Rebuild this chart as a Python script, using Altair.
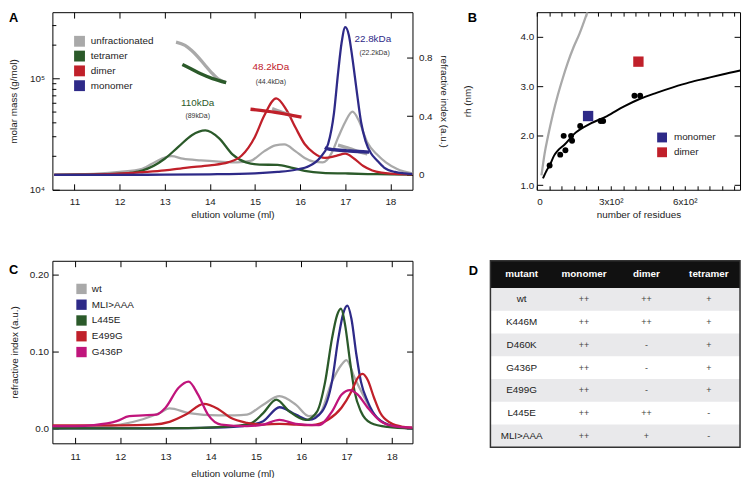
import altair as alt
import pandas as pd

FONT = "Liberation Sans"
TXT = "#222222"

# ---------------- Panel A data ----------------
a_series = ["unfractionated", "tetramer", "dimer", "monomer"]
a_colors = ["#a9a9a9", "#2b5a2a", "#c0202a", "#2e2a88"]

# refractive-index traces (elution volume ml, RI a.u.)
a_unf_x = [10.55, 11.0, 11.5, 12.0, 12.5, 12.8, 13.0, 13.15, 13.4, 13.8, 14.2, 14.6, 14.9, 15.2, 15.45, 15.65, 15.9, 16.1, 16.3, 16.5, 16.7, 16.85, 17.0, 17.16, 17.3, 17.49, 17.7, 17.9, 18.15, 18.49]
a_unf_y = [0.002, 0.004, 0.008, 0.02, 0.042, 0.09, 0.118, 0.127, 0.11, 0.098, 0.09, 0.085, 0.095, 0.16, 0.2, 0.207, 0.16, 0.115, 0.09, 0.085, 0.15, 0.26, 0.36, 0.43, 0.37, 0.22, 0.14, 0.085, 0.04, 0.01]
a_tet_x = [10.55, 11.0, 11.5, 12.0, 12.5, 13.0, 13.3, 13.6, 13.9, 14.2, 14.5, 14.8, 15.1, 15.5, 15.8, 16.1, 16.5, 17.0, 17.5, 18.0, 18.49]
a_tet_y = [0.0, 0.001, 0.003, 0.008, 0.03, 0.11, 0.19, 0.27, 0.302, 0.25, 0.14, 0.085, 0.07, 0.068, 0.05, 0.028, 0.014, 0.01, 0.006, 0.004, 0.002]
a_dim_x = [10.55, 11.5, 12.0, 12.5, 13.0, 13.5, 14.0, 14.4, 14.7, 15.0, 15.2, 15.47, 15.7, 15.9, 16.1, 16.3, 16.55, 16.8, 17.0, 17.2, 17.4, 17.6, 17.8, 18.0, 18.49]
a_dim_y = [0.0, 0.003, 0.008, 0.018, 0.03, 0.05, 0.065, 0.085, 0.13, 0.26, 0.4, 0.52, 0.44, 0.32, 0.21, 0.15, 0.115, 0.13, 0.145, 0.11, 0.06, 0.03, 0.015, 0.008, 0.003]
a_mon_x = [10.55, 12.0, 13.0, 14.0, 15.0, 15.5, 15.9, 16.2, 16.45, 16.62, 16.75, 16.84, 16.92, 17.0, 17.08, 17.16, 17.25, 17.35, 17.45, 17.57, 17.7, 17.86, 18.1, 18.49]
a_mon_y = [0.0, 0.0, 0.002, 0.004, 0.01, 0.02, 0.035, 0.06, 0.12, 0.21, 0.42, 0.69, 0.9, 1.005, 0.95, 0.79, 0.58, 0.36, 0.23, 0.147, 0.1, 0.05, 0.02, 0.005]

# molar mass segments (elution volume ml, g/mol)
a_mass_unf1_x = [13.25, 13.45, 13.59, 13.73, 13.88, 14.03, 14.17, 14.36]
a_mass_unf1_y = [213000, 199000, 180000, 158000, 134000, 114000, 100000, 92000]
a_mass_tet_x = [13.39, 13.59, 13.81, 14.06, 14.36]
a_mass_tet_y = [134000, 122000, 110000, 100000, 92000]
a_mass_unf2_x = [15.38, 15.6, 15.81]
a_mass_unf2_y = [53700, 49700, 46500]
a_mass_dim_x = [14.9, 15.45, 16.03]
a_mass_dim_y = [53000, 49700, 45000]
a_mass_unf3_x = [16.84, 17.1, 17.3, 17.49]
a_mass_unf3_y = [25200, 23500, 22000, 21000]
a_mass_mon_x = [16.55, 16.62, 16.76, 17.1, 17.53]
a_mass_mon_y = [24100, 23300, 22900, 22300, 21800]

a_minor_ticks = [20000, 30000, 40000, 50000, 60000, 70000, 80000, 90000, 200000, 300000]

ann_text = ["110kDa", "(89kDa)", "48.2kDa", "(44.4kDa)", "22.8kDa", "(22.2kDa)"]
ann_ml = [13.73, 13.73, 15.35, 15.35, 17.61, 17.65]
ann_mass = [60800, 46400, 126000, 92500, 227000, 169000]
ann_color = ["#2b5a2a", "#333333", "#c0202a", "#333333", "#2e2a88", "#333333"]
ann_size = [10, 7, 10, 7, 10, 7]

# ---------------- Panel B data ----------------
b_fit_x = [25, 40, 52, 70, 85, 112, 152, 219, 285, 352, 419, 485, 552, 619, 685, 752, 825]
b_fit_y = [1.14, 1.30, 1.40, 1.60, 1.70, 1.82, 2.04, 2.25, 2.40, 2.59, 2.75, 2.87, 2.98, 3.08, 3.16, 3.24, 3.32]
b_gray_x = [19, 32, 45, 65, 85, 105, 125, 149, 172, 205]
b_gray_y = [1.20, 1.65, 1.98, 2.43, 2.82, 3.16, 3.47, 3.79, 4.05, 4.50]
b_dots_x = [52, 95, 116, 109, 139, 143, 176, 259, 269, 396, 419]
b_dots_y = [1.40, 1.62, 1.71, 2.0, 2.0, 1.90, 2.20, 2.30, 2.30, 2.81, 2.81]
b_sq_kind = ["monomer", "dimer"]
b_sq_x = [208, 412]
b_sq_y = [2.40, 3.50]
b_sq_colors = ["#2e2a88", "#c0202a"]

# ---------------- Panel C data ----------------
c_series = ["wt", "MLI>AAA", "L445E", "E499G", "G436P"]
c_colors = ["#a9a9a9", "#2e2a88", "#2b5a2a", "#c0202a", "#c0157c"]
c_wt_x = [10.5, 11.0, 11.5, 12.0, 12.5, 12.87, 13.09, 13.52, 14.17, 14.53, 14.8, 15.16, 15.52, 15.88, 16.17, 16.39, 16.68, 16.89, 17.0, 17.18, 17.4, 17.61, 17.9, 18.2, 18.46]
c_wt_y = [0.0, 0.001, 0.002, 0.005, 0.012, 0.02, 0.026, 0.02, 0.017, 0.017, 0.018, 0.031, 0.042, 0.031, 0.016, 0.018, 0.061, 0.083, 0.089, 0.066, 0.04, 0.018, 0.005, 0.001, 0.0]
c_mli_x = [10.5, 12.0, 13.5, 14.5, 14.9, 15.16, 15.52, 15.88, 16.17, 16.46, 16.68, 16.82, 16.93, 17.02, 17.11, 17.22, 17.32, 17.47, 17.68, 18.04, 18.46]
c_mli_y = [0.0, 0.0, 0.0005, 0.002, 0.005, 0.0095, 0.0276, 0.018, 0.011, 0.022, 0.061, 0.117, 0.15, 0.16, 0.143, 0.096, 0.061, 0.035, 0.014, 0.003, 0.0]
c_l445_x = [10.5, 12.0, 13.5, 14.5, 14.9, 15.16, 15.45, 15.74, 16.1, 16.35, 16.53, 16.68, 16.79, 16.88, 16.97, 17.08, 17.18, 17.32, 17.54, 17.9, 18.46]
c_l445_y = [0.0, 0.0, 0.0005, 0.003, 0.007, 0.02, 0.0375, 0.022, 0.011, 0.022, 0.061, 0.117, 0.147, 0.156, 0.135, 0.087, 0.048, 0.022, 0.007, 0.002, 0.0]
c_e499_x = [10.5, 11.0, 12.0, 12.72, 13.09, 13.45, 13.85, 14.17, 14.44, 14.8, 15.16, 15.52, 15.9, 16.24, 16.6, 16.89, 17.11, 17.25, 17.36, 17.47, 17.61, 17.75, 17.97, 18.26, 18.46]
c_e499_y = [0.004, 0.004, 0.004, 0.005, 0.0086, 0.018, 0.032, 0.025, 0.0138, 0.0073, 0.005, 0.006, 0.005, 0.0043, 0.0116, 0.027, 0.048, 0.066, 0.071, 0.063, 0.04, 0.02, 0.0073, 0.002, 0.001]
c_g436_x = [10.5, 11.0, 11.42, 11.92, 12.2, 12.5, 12.8, 13.0, 13.29, 13.51, 13.72, 13.94, 14.23, 14.8, 15.16, 15.52, 15.88, 16.39, 16.68, 16.89, 17.08, 17.25, 17.47, 17.75, 18.04, 18.46]
c_g436_y = [0.003, 0.003, 0.0043, 0.0095, 0.016, 0.017, 0.018, 0.027, 0.053, 0.061, 0.044, 0.018, 0.005, 0.003, 0.005, 0.011, 0.006, 0.0043, 0.022, 0.044, 0.05, 0.044, 0.027, 0.0095, 0.003, 0.001]

# ---------------- Panel D data ----------------
d_headers = ["mutant", "monomer", "dimer", "tetramer"]
d_mutant = ["wt", "K446M", "D460K", "G436P", "E499G", "L445E", "MLI>AAA"]
d_monomer = ["++", "++", "++", "++", "++", "++", "++"]
d_dimer = ["++", "++", "-", "-", "-", "++", "+"]
d_tetramer = ["+", "+", "+", "+", "+", "-", "-"]

# ---------------- helpers ----------------
def frame_df(xs, ys, name, xc="x", yc="y", sc="series"):
    return pd.DataFrame({xc: xs, yc: ys, sc: [name] * len(xs)})


def inaxis(orient, values, size=6, **kw):
    opts = dict(orient=orient, values=values, tickSize=size, offset=-size, domain=False,
                grid=False, tickColor="black", tickWidth=1)
    opts.update(kw)
    if "title" not in opts:
        opts["title"] = None
    return alt.Axis(**opts)


def letter(ch, dx, dy):
    return alt.Chart(pd.DataFrame({"t": [ch]})).mark_text(
        align="left", baseline="top", fontSize=13, fontWeight="bold", font=FONT, color="black"
    ).encode(text="t:N", x=alt.value(dx), y=alt.value(dy))


def square_legend(x, y, size, row_pad, offset):
    return alt.Legend(orient="none", legendX=x, legendY=y, title=None, symbolType="square",
                      symbolSize=size, symbolStrokeWidth=0, symbolOpacity=1, labelFontSize=10,
                      labelFont=FONT, labelColor=TXT, labelOffset=offset, rowPadding=row_pad,
                      padding=0)


def legend_anchor(names, field, cscale, legend):
    # invisible filled squares that only carry the colour legend
    return alt.Chart(pd.DataFrame({field: names})).mark_square(
        opacity=0, filled=True, size=10
    ).encode(color=alt.Color(f"{field}:N", scale=cscale, legend=legend))


ticksX = [11, 12, 13, 14, 15, 16, 17, 18]

# ================= Panel A =================
WA, HA = 365, 180
xA = alt.Scale(domain=[10.51, 18.49], nice=False, zero=False)
riA = alt.Scale(domain=[-0.101, 1.106], nice=False, zero=False)
massA = alt.Scale(type="log", domain=[10000, 396000], nice=False)
colA = alt.Scale(domain=a_series, range=a_colors)
colorA = dict(zip(a_series, a_colors))

layersA = [
    legend_anchor(a_series, "series", colA, square_legend(22, 24, 121, 4, 6)),
    alt.Chart(pd.DataFrame({"v": a_minor_ticks})).mark_rule(color="black", strokeWidth=1).encode(
        y=alt.Y("v:Q", scale=massA, axis=None), x=alt.value(0), x2=alt.value(4)
    ),
]
ri_frames = {
    "unfractionated": (a_unf_x, a_unf_y),
    "tetramer": (a_tet_x, a_tet_y),
    "dimer": (a_dim_x, a_dim_y),
    "monomer": (a_mon_x, a_mon_y),
}
for i, s in enumerate(a_series):
    xs, ys = ri_frames[s]
    if i == 0:
        ax_x = inaxis("bottom", ticksX, format="d", labelPadding=7, title="elution volume (ml)",
                      titlePadding=3)
        ax_y = inaxis("right", [0, 0.4, 0.8], labelPadding=6,
                      labelExpr="datum.value == 0 ? '0' : format(datum.value, '.1f')",
                      title="refractive index (a.u.)", titlePadding=6)
    else:
        ax_x = None
        ax_y = None
    layersA.append(
        alt.Chart(frame_df(xs, ys, s, "ml", "ri")).mark_line(
            strokeWidth=2.3, interpolate="monotone", clip=True, color=colorA[s]
        ).encode(
            x=alt.X("ml:Q", scale=xA, axis=ax_x),
            y=alt.Y("ri:Q", scale=riA, axis=ax_y),
        )
    )

mass_segments = [
    ("unfractionated", a_mass_unf1_x, a_mass_unf1_y),
    ("tetramer", a_mass_tet_x, a_mass_tet_y),
    ("unfractionated", a_mass_unf2_x, a_mass_unf2_y),
    ("dimer", a_mass_dim_x, a_mass_dim_y),
    ("unfractionated", a_mass_unf3_x, a_mass_unf3_y),
    ("monomer", a_mass_mon_x, a_mass_mon_y),
]
for i, (s, xs, ys) in enumerate(mass_segments):
    if i == 0:
        ax_x = inaxis("top", ticksX, labels=False)
        ax_y = inaxis("left", [10000, 100000], size=7, labelPadding=8,
                      labelExpr="datum.value == 100000 ? '10\u2075' : '10\u2074'",
                      title="molar mass (g/mol)", titlePadding=11)
    else:
        ax_x = None
        ax_y = None
    layersA.append(
        alt.Chart(frame_df(xs, ys, s, "ml", "mass")).mark_line(
            strokeWidth=3.4, interpolate="monotone", clip=True, color=colorA[s]
        ).encode(
            x=alt.X("ml:Q", scale=xA, axis=ax_x),
            y=alt.Y("mass:Q", scale=massA, axis=ax_y),
        )
    )
for t, mx, my, c, fs in zip(ann_text, ann_ml, ann_mass, ann_color, ann_size):
    layersA.append(
        alt.Chart(pd.DataFrame({"t": [t], "ml": [mx], "mass": [my]})).mark_text(
            fontSize=fs, font=FONT, color=c, align="center", baseline="middle"
        ).encode(
            x=alt.X("ml:Q", scale=xA, axis=None),
            y=alt.Y("mass:Q", scale=massA, axis=None),
            text="t:N",
        )
    )
layersA.append(letter("A", -44, 0))

panelA = alt.layer(*layersA).resolve_scale(y="independent").resolve_axis(
    x="independent", y="independent"
).properties(width=WA, height=HA)

# ================= Panel B =================
WB, HB = 206, 180
xB = alt.Scale(domain=[0, 824], nice=False, zero=False)
yB = alt.Scale(domain=[0.91, 4.5], nice=False, zero=False)
colB = alt.Scale(domain=b_sq_kind, range=b_sq_colors)
ticksB = [0, 50, 100, 150, 200, 250, 300, 350, 400, 450, 500, 550, 600, 650, 700, 750, 800]
b_label_expr = ("datum.value == 0 ? '0' : datum.value == 300 ? '3x10\u00b2' : "
                "datum.value == 600 ? '6x10\u00b2' : ''")

b_gray = alt.Chart(frame_df(b_gray_x, b_gray_y, "gray", "res", "rh")).mark_line(
    color="#a9a9a9", strokeWidth=2.3, interpolate="monotone", clip=True
).encode(
    x=alt.X("res:Q", scale=xB, axis=inaxis("bottom", ticksB, size=4, labelPadding=7,
                                           labelExpr=b_label_expr, title="number of residues",
                                           titlePadding=3)),
    y=alt.Y("rh:Q", scale=yB, axis=inaxis("left", [1, 2, 3, 4], format=".1f", labelPadding=3,
                                          title="rh (nm)", titlePadding=48)),
)
b_fit = alt.Chart(frame_df(b_fit_x, b_fit_y, "fit", "res", "rh")).mark_line(
    color="black", strokeWidth=2, interpolate="monotone", clip=True
).encode(
    x=alt.X("res:Q", scale=xB, axis=inaxis("top", ticksB, size=4, labels=False)),
    y=alt.Y("rh:Q", scale=yB, axis=inaxis("right", [1, 2, 3, 4], labels=False)),
)
b_dots = alt.Chart(frame_df(b_dots_x, b_dots_y, "dots", "res", "rh")).mark_circle(
    color="black", size=36, opacity=1
).encode(
    x=alt.X("res:Q", scale=xB, axis=None),
    y=alt.Y("rh:Q", scale=yB, axis=None),
)
b_sq = alt.Chart(pd.DataFrame({"res": b_sq_x, "rh": b_sq_y, "kind": b_sq_kind})).mark_square(
    size=110, opacity=1, filled=True
).encode(
    x=alt.X("res:Q", scale=xB, axis=None),
    y=alt.Y("rh:Q", scale=yB, axis=None),
    color=alt.Color("kind:N", scale=colB, legend=square_legend(122, 122, 100, 5, 7)),
)
panelB = alt.layer(b_gray, b_fit, b_dots, b_sq, letter("B", -70, 0)).resolve_axis(
    x="independent", y="independent"
).properties(width=WB, height=HB)

# ================= Panel C =================
WC, HC = 365, 185
xC = alt.Scale(domain=[10.5, 18.46], nice=False, zero=False)
yC = alt.Scale(domain=[-0.0194, 0.2185], nice=False, zero=False)
colC = alt.Scale(domain=c_series, range=c_colors)
colorC = dict(zip(c_series, c_colors))
c_frames = {
    "wt": (c_wt_x, c_wt_y),
    "MLI>AAA": (c_mli_x, c_mli_y),
    "L445E": (c_l445_x, c_l445_y),
    "E499G": (c_e499_x, c_e499_y),
    "G436P": (c_g436_x, c_g436_y),
}
layersC = [legend_anchor(c_series, "variant", colC, square_legend(24, 23, 110, 5, 5))]
for i, s in enumerate(c_series):
    xs, ys = c_frames[s]
    if i == 0:
        ax_x = inaxis("bottom", ticksX, format="d", labelPadding=8, title="elution volume (ml)",
                      titlePadding=8)
        ax_y = inaxis("left", [0, 0.1, 0.2], labelPadding=4,
                      labelExpr="datum.value == 0 ? '0.0' : format(datum.value, '.2f')",
                      title="refractive index (a.u.)", titlePadding=10)
    elif i == 1:
        ax_x = inaxis("top", ticksX, labels=False)
        ax_y = inaxis("right", [0, 0.1, 0.2], labels=False)
    else:
        ax_x = None
        ax_y = None
    layersC.append(
        alt.Chart(frame_df(xs, ys, s, "ml", "ri", "variant")).mark_line(
            strokeWidth=2.3, interpolate="monotone", clip=True, color=colorC[s]
        ).encode(
            x=alt.X("ml:Q", scale=xC, axis=ax_x),
            y=alt.Y("ri:Q", scale=yC, axis=ax_y),
        )
    )
layersC.append(letter("C", -44, 3))
panelC = alt.layer(*layersC).resolve_axis(x="independent", y="independent").properties(
    width=WC, height=HC
)

# ================= Panel D (table) =================
WD, HD = 206, 189
TL = -47  # table starts left of the column's plot edge
xD = alt.Scale(domain=[0, 4], nice=False, zero=False, range=[TL, WD])
yD = alt.Scale(domain=[-1.2, 7], nice=False, zero=False, reverse=True)

rows = []
for i in range(len(d_mutant)):
    for j, col in enumerate([d_mutant, d_monomer, d_dimer, d_tetramer]):
        rows.append({"xc": j + 0.5, "yc": i + 0.5, "t": col[i], "first": j == 0})
dfD = pd.DataFrame(rows)
dfH = pd.DataFrame({"t": d_headers, "xc": [j + 0.5 for j in range(4)], "yc": [-0.6] * 4})

d_shade = alt.Chart(pd.DataFrame({"row": [i for i in range(len(d_mutant)) if i % 2 == 0]})).transform_calculate(
    row2="datum.row + 1"
).mark_rect(color="#e9e9eb").encode(
    y=alt.Y("row:Q", scale=yD, axis=None), y2="row2:Q", x=alt.value(TL), x2=alt.value(WD)
)
d_head = alt.Chart(pd.DataFrame({"a": [-1.2], "b": [0]})).mark_rect(color="#111111").encode(
    y=alt.Y("a:Q", scale=yD, axis=None), y2="b:Q", x=alt.value(TL), x2=alt.value(WD)
)
d_border = alt.Chart(pd.DataFrame({"a": [-1.2], "b": [7]})).mark_rect(
    fill="transparent", stroke="#333333", strokeWidth=1.5
).encode(
    y=alt.Y("a:Q", scale=yD, axis=None), y2="b:Q", x=alt.value(TL), x2=alt.value(WD)
)
d_head_txt = alt.Chart(dfH).mark_text(fontSize=10, fontWeight="bold", font=FONT, color="white").encode(
    x=alt.X("xc:Q", scale=xD, axis=None), y=alt.Y("yc:Q", scale=yD, axis=None), text="t:N"
)
d_first_txt = alt.Chart(dfD).transform_filter("datum.first").mark_text(
    fontSize=10, font=FONT, color=TXT
).encode(x=alt.X("xc:Q", scale=xD, axis=None), y=alt.Y("yc:Q", scale=yD, axis=None), text="t:N")
d_rest_txt = alt.Chart(dfD).transform_filter("!datum.first").mark_text(
    fontSize=9, font=FONT, color="#444444"
).encode(x=alt.X("xc:Q", scale=xD, axis=None), y=alt.Y("yc:Q", scale=yD, axis=None), text="t:N")

panelD = alt.layer(
    d_shade, d_head, d_border, d_head_txt, d_first_txt, d_rest_txt, letter("D", TL - 22, 4)
).properties(width=WD, height=HD, view=alt.ViewBackground(stroke="transparent"))

chart = alt.concat(
    panelA, panelB, panelC, panelD, columns=2, bounds="flush",
    spacing=alt.RowColnumber(row=72, column=126)
).resolve_scale(color="independent").properties(padding=0).configure(font=FONT).configure_view(
    stroke="black", strokeWidth=1
).configure_axis(
    labelFont=FONT, titleFont=FONT, labelFontSize=10, titleFontSize=10, labelColor=TXT,
    titleColor=TXT, titleFontWeight="normal", grid=False
)

chart.save("out.html", embed_options={"renderer": "svg", "actions": False})
